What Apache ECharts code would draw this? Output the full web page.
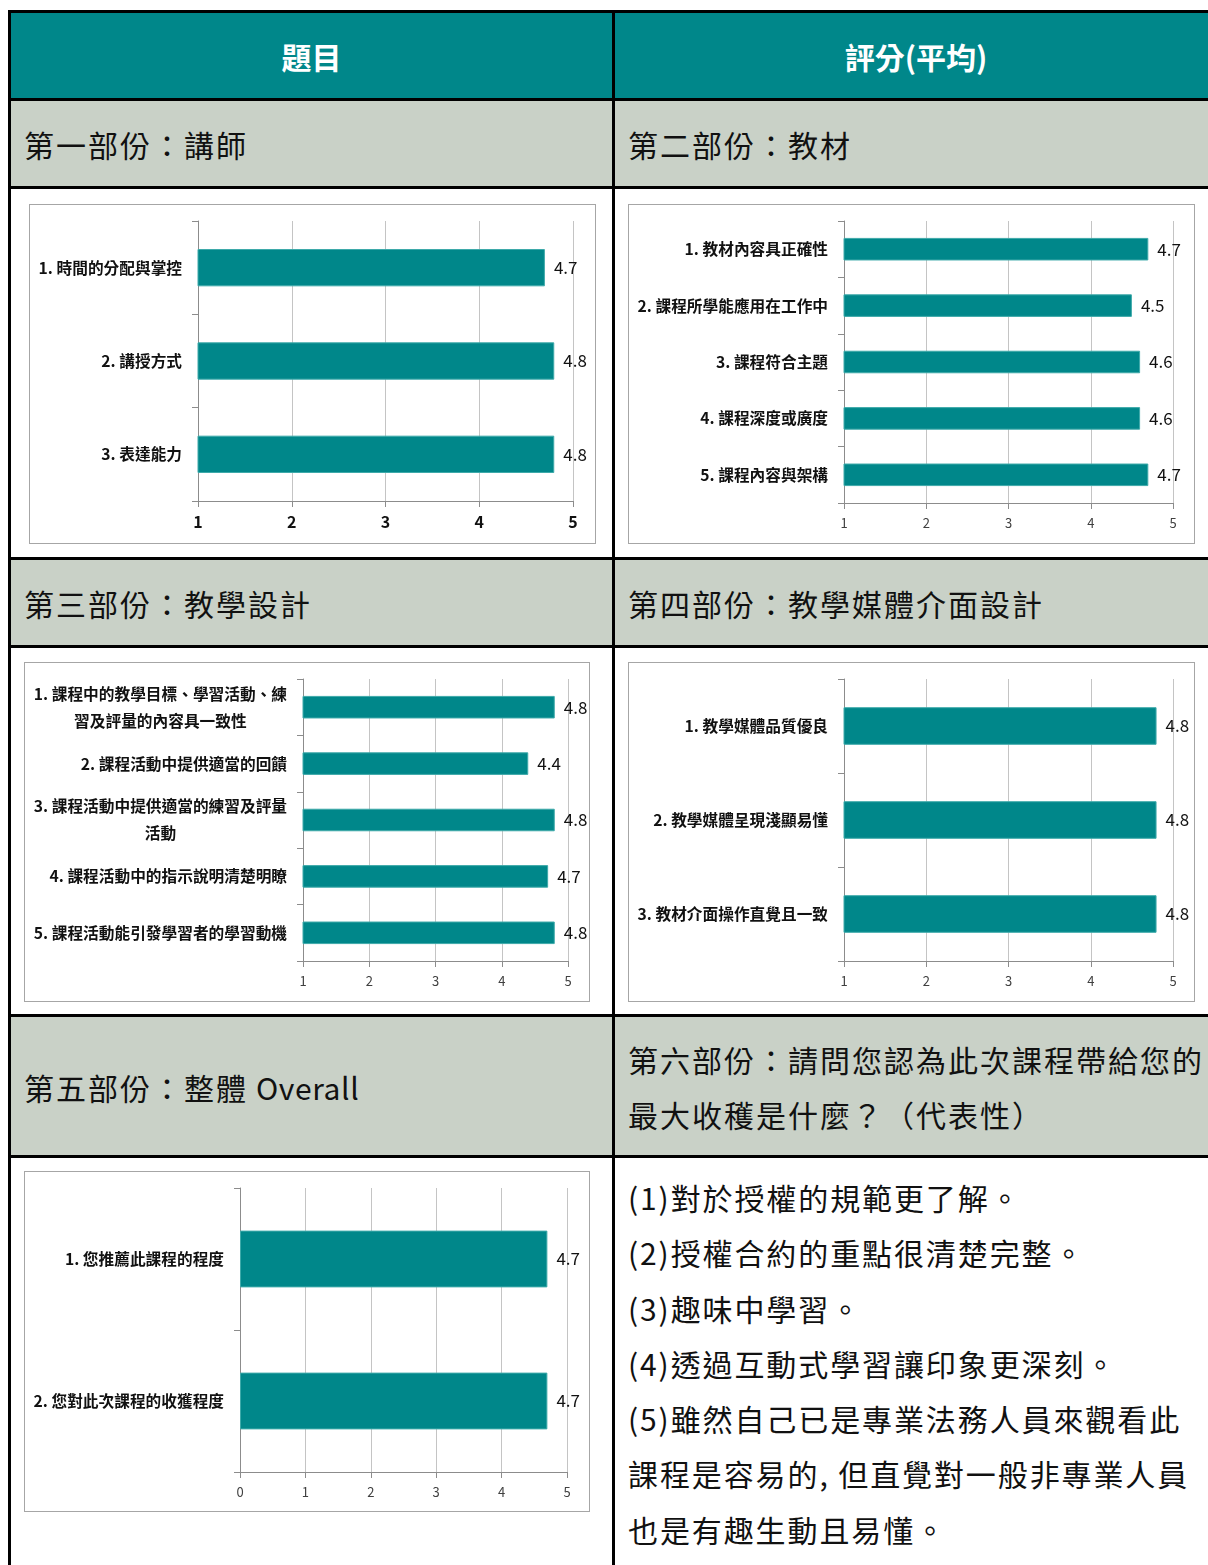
<!DOCTYPE html>
<html>
<head>
<meta charset="utf-8">
<script src="https://cdn.jsdelivr.net/npm/echarts@6/dist/echarts.min.js"></script>
<style>
html,body{margin:0;padding:0;background:#fff;}
body{width:1208px;height:1565px;overflow:hidden;position:relative;font-family:"Noto Sans CJK TC","Noto Sans",sans-serif;}
.bg{position:absolute;}
.hl{position:absolute;left:8px;width:1215px;height:3px;background:#000;}
.vl{position:absolute;top:10px;width:3px;height:1560px;background:#000;}
.txt{position:absolute;display:flex;align-items:center;color:#111;font-size:30px;letter-spacing:2px;white-space:nowrap;}
.hdr{position:absolute;display:flex;align-items:center;justify-content:center;color:#fff;font-size:30px;font-weight:bold;}
.box{position:absolute;border:1.5px solid #a6a6a6;box-sizing:border-box;background:#fff;}
.box > div{width:100%;height:100%;}
.lines{position:absolute;left:628px;top:1170px;font-size:30px;line-height:55.3px;color:#111;white-space:nowrap;letter-spacing:1.9px;}
</style>
</head>
<body>
<!-- backgrounds -->
<div class="bg" style="left:8px;top:10px;width:1215px;height:90px;background:#00878A;"></div>
<div class="bg" style="left:8px;top:100px;width:1215px;height:88px;background:#C9D1C7;"></div>
<div class="bg" style="left:8px;top:558px;width:1215px;height:89px;background:#C9D1C7;"></div>
<div class="bg" style="left:8px;top:1015px;width:1215px;height:142px;background:#C9D1C7;"></div>

<!-- header texts -->
<div class="hdr" style="left:11px;top:13px;width:601px;height:86px;">題目</div>
<div class="hdr" style="left:615px;top:13px;width:602px;height:86px;">評分(平均)</div>

<div class="txt" style="left:24px;top:101px;height:86px;">第一部份：講師</div>
<div class="txt" style="left:628px;top:101px;height:86px;">第二部份：教材</div>
<div class="txt" style="left:24px;top:560px;height:86px;">第三部份：教學設計</div>
<div class="txt" style="left:628px;top:560px;height:86px;">第四部份：教學媒體介面設計</div>
<div class="txt" style="left:24px;top:1017px;height:140px;">第五部份：整體<span style="letter-spacing:0.6px;margin-left:8px;">Overall</span></div>
<div class="txt" style="left:628px;top:1017px;height:140px;line-height:55px;"><div>第六部份：請問您認為此次課程帶給您的<br>最大收穫是什麼？（代表性）</div></div>

<div class="lines">
<div>(1)對於授權的規範更了解。</div>
<div>(2)授權合約的重點很清楚完整。</div>
<div>(3)趣味中學習。</div>
<div>(4)透過互動式學習讓印象更深刻。</div>
<div>(5)雖然自己已是專業法務人員來觀看此</div>
<div>課程是容易的, 但直覺對一般非專業人員</div>
<div>也是有趣生動且易懂。</div>
</div>

<!-- chart boxes -->
<div class="box" style="left:29px;top:204px;width:567px;height:340px;"><div id="c1"></div></div>
<div class="box" style="left:628px;top:204px;width:567px;height:340px;"><div id="c2"></div></div>
<div class="box" style="left:24px;top:662px;width:566px;height:340px;"><div id="c3"></div></div>
<div class="box" style="left:628px;top:662px;width:567px;height:340px;"><div id="c4"></div></div>
<div class="box" style="left:24px;top:1171px;width:566px;height:341px;"><div id="c5"></div></div>

<!-- table lines -->
<div class="hl" style="top:10px;"></div>
<div class="hl" style="top:98px;"></div>
<div class="hl" style="top:186px;"></div>
<div class="hl" style="top:557px;"></div>
<div class="hl" style="top:645px;"></div>
<div class="hl" style="top:1014px;"></div>
<div class="hl" style="top:1155px;"></div>
<div class="vl" style="left:8px;"></div>
<div class="vl" style="left:612px;"></div>

<script>
// ---- data ----
const part1Cats = ['1. 時間的分配與掌控', '2. 講授方式', '3. 表達能力'];
const part1Vals = [4.7, 4.8, 4.8];

const part2Cats = ['1. 教材內容具正確性', '2. 課程所學能應用在工作中', '3. 課程符合主題', '4. 課程深度或廣度', '5. 課程內容與架構'];
const part2Vals = [4.7, 4.5, 4.6, 4.6, 4.7];

const part3Cats = ['1. 課程中的教學目標、學習活動、練習及評量的內容具一致性', '2. 課程活動中提供適當的回饋', '3. 課程活動中提供適當的練習及評量活動', '4. 課程活動中的指示說明清楚明瞭', '5. 課程活動能引發學習者的學習動機'];
const part3Vals = [4.8, 4.4, 4.8, 4.7, 4.8];

const part4Cats = ['1. 教學媒體品質優良', '2. 教學媒體呈現淺顯易懂', '3. 教材介面操作直覺且一致'];
const part4Vals = [4.8, 4.8, 4.8];

const part5Cats = ['1. 您推薦此課程的程度', '2. 您對此次課程的收獲程度'];
const part5Vals = [4.7, 4.7];

const FONT = '"Noto Sans CJK TC", "Noto Sans", sans-serif';
const BAR = '#00878A';

function build(id, cats, vals, cfg) {
  const chart = echarts.init(document.getElementById(id), null, {renderer: 'canvas'});
  const LS = 15.7;
  const yLabel = {
    margin: 16, fontSize: LS, fontWeight: 'bold', color: '#111', fontFamily: FONT
  };
  if (cfg.wrap) {
    yLabel.formatter = function (v) {
      if (v.length > cfg.wrap) {
        return '{a|' + v.slice(0, cfg.wrap) + '}\n{b|' + v.slice(cfg.wrap) + '}';
      }
      return v;
    };
    yLabel.rich = {
      a: {fontSize: LS, fontWeight: 'bold', color: '#111', lineHeight: 27, fontFamily: FONT},
      b: {fontSize: LS, fontWeight: 'bold', color: '#111', lineHeight: 27, fontFamily: FONT, align: 'center'}
    };
  }
  chart.setOption({
    animation: false,
    textStyle: {fontFamily: FONT},
    grid: {left: cfg.left, right: cfg.right, top: cfg.top, bottom: cfg.bottom, containLabel: false},
    xAxis: {
      type: 'value', min: cfg.min, max: 5, interval: 1,
      axisLine: {show: true, lineStyle: {color: '#8c8c8c', width: 1}},
      axisTick: {show: true, length: 6, lineStyle: {color: '#8c8c8c'}},
      splitLine: {show: true, lineStyle: {color: '#c4c4c4', width: 1}},
      axisLabel: {margin: cfg.tickMargin, fontSize: cfg.tickSize, color: cfg.tickColor, fontWeight: cfg.tickWeight, fontFamily: FONT}
    },
    yAxis: {
      type: 'category', data: cats, inverse: true,
      axisLine: {show: true, lineStyle: {color: '#8c8c8c', width: 1}},
      axisTick: {show: true, length: 6, lineStyle: {color: '#8c8c8c'}},
      splitLine: {show: false},
      axisLabel: yLabel
    },
    series: [{
      type: 'bar', data: vals, barCategoryGap: '60%',
      itemStyle: {color: BAR, borderColor: '#3eaaaa', borderWidth: 1},
      label: {
        show: true, position: 'right', distance: 9, fontSize: cfg.valSize, color: '#111', fontFamily: FONT,
        formatter: function (p) { return p.value.toFixed(1); }
      }
    }]
  });
}

build('c1', part1Cats, part1Vals, {left: 168, right: 22, top: 16, bottom: 42, min: 1, tickSize: 16, tickColor: '#111', tickWeight: 'bold', tickMargin: 13, valSize: 17});
build('c2', part2Cats, part2Vals, {left: 215, right: 21, top: 16, bottom: 40, min: 1, tickSize: 13, tickColor: '#404040', tickWeight: 'normal', tickMargin: 14, valSize: 17});
build('c3', part3Cats, part3Vals, {left: 278, right: 21, top: 16, bottom: 40, min: 1, tickSize: 13, tickColor: '#404040', tickWeight: 'normal', tickMargin: 14, valSize: 17, wrap: 18});
build('c4', part4Cats, part4Vals, {left: 215, right: 21, top: 16, bottom: 40, min: 1, tickSize: 13, tickColor: '#404040', tickWeight: 'normal', tickMargin: 14, valSize: 17});
build('c5', part5Cats, part5Vals, {left: 215, right: 22, top: 16, bottom: 39, min: 0, tickSize: 13, tickColor: '#404040', tickWeight: 'normal', tickMargin: 14, valSize: 17});
</script>
</body>
</html>
